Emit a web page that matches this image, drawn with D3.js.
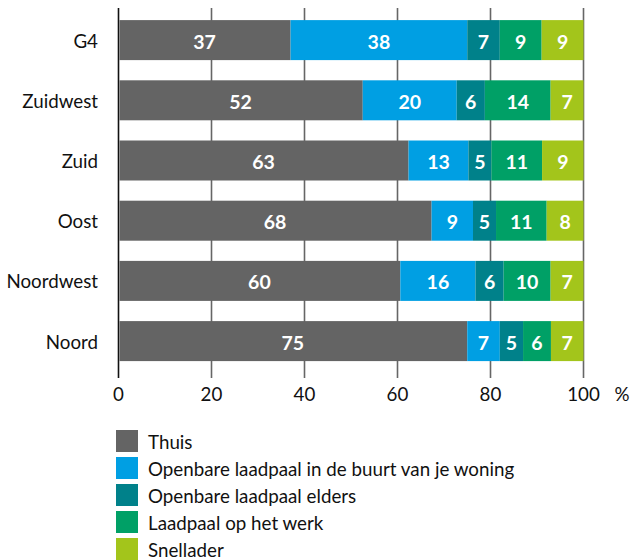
<!DOCTYPE html>
<html><head><meta charset="utf-8">
<script src="https://cdn.jsdelivr.net/npm/d3@7"></script>
<style>
body{margin:0;background:#fff;}
text{font-family:Lato,"Open Sans",sans-serif;}
</style></head>
<body><svg id="c" width="631" height="560"></svg>
<script>
const categories = ["G4","Zuidwest","Zuid","Oost","Noordwest","Noord"];
const seriesNames = ["Thuis","Openbare laadpaal in de buurt van je woning","Openbare laadpaal elders","Laadpaal op het werk","Snellader"];
const thuis      = [37,52,63,68,60,75];
const buurt      = [38,20,13, 9,16, 7];
const elders     = [ 7, 6, 5, 5, 6, 5];
const werk       = [ 9,14,11,11,10, 6];
const snellader  = [ 9, 7, 9, 8, 7, 7];
const tickValues = [0,20,40,60,80,100];
const colors = ["#646464","#009FE3","#00818A","#00A066","#A3C51B"];

const seriesVals = [thuis,buurt,elders,werk,snellader];
const rows = categories.map((c,i)=>{const r={cat:c}; seriesNames.forEach((s,j)=>r[s]=seriesVals[j][i]); return r;});
const stack = d3.stack().keys(seriesNames).offset(d3.stackOffsetExpand)(rows);

const svg = d3.select("#c");
const x = d3.scaleLinear().domain([0,100]).range([118.5,583.5]);
const y = d3.scaleBand().domain(categories).range([10,371.2]).paddingInner(0.3355).paddingOuter(0.1678);
const fs = "18.75px";

// gridlines
svg.append("g").selectAll("line").data(tickValues).join("line")
  .attr("x1",d=>x(d)).attr("x2",d=>x(d)).attr("y1",8).attr("y2",378)
  .attr("stroke",d=>d===0?"#111":"#666").attr("stroke-width",1.6);

// bars
const g = svg.append("g");
stack.forEach((s,j)=>{
  g.append("g").selectAll("rect").data(s).join("rect")
    .attr("x",d=>x(d[0]*100)+(j===0?1:0)).attr("width",d=>x(d[1]*100)-x(d[0]*100)-(j===0?1:0))
    .attr("y",d=>y(d.data.cat)).attr("height",y.bandwidth())
    .attr("fill",colors[j]);
  g.append("g").selectAll("text").data(s).join("text")
    .attr("x",d=>(x(d[0]*100)+x(d[1]*100))/2).attr("y",d=>y(d.data.cat)+y.bandwidth()/2+1)
    .attr("text-anchor","middle").attr("dominant-baseline","central")
    .attr("fill","#fff").attr("font-weight","bold").attr("font-size","19.5px")
    .text(d=>d.data[seriesNames[j]]);
});

// category labels
svg.append("g").selectAll("text").data(categories).join("text")
  .attr("x",98).attr("y",d=>y(d)+y.bandwidth()/2).attr("text-anchor","end")
  .attr("dominant-baseline","central").attr("font-size",fs).attr("fill","#111").text(d=>d);

// tick labels
svg.append("g").selectAll("text").data(tickValues).join("text")
  .attr("x",d=>x(d)).attr("y",393).attr("text-anchor","middle").attr("dominant-baseline","central")
  .attr("font-size",fs).attr("fill","#111").text(d=>d);
svg.append("text").attr("x",622).attr("y",393).attr("text-anchor","middle").attr("dominant-baseline","central")
  .attr("font-size",fs).attr("fill","#111").text("%");

// legend
const lg = svg.append("g").selectAll("g").data(seriesNames).join("g")
  .attr("transform",(d,i)=>`translate(116,${430+i*27})`);
lg.append("rect").attr("width",22).attr("height",22).attr("fill",(d,i)=>colors[i]);
lg.append("text").attr("x",32).attr("y",11).attr("dominant-baseline","central")
  .attr("font-size",fs).attr("fill","#111").text(d=>d);
</script></body></html>
